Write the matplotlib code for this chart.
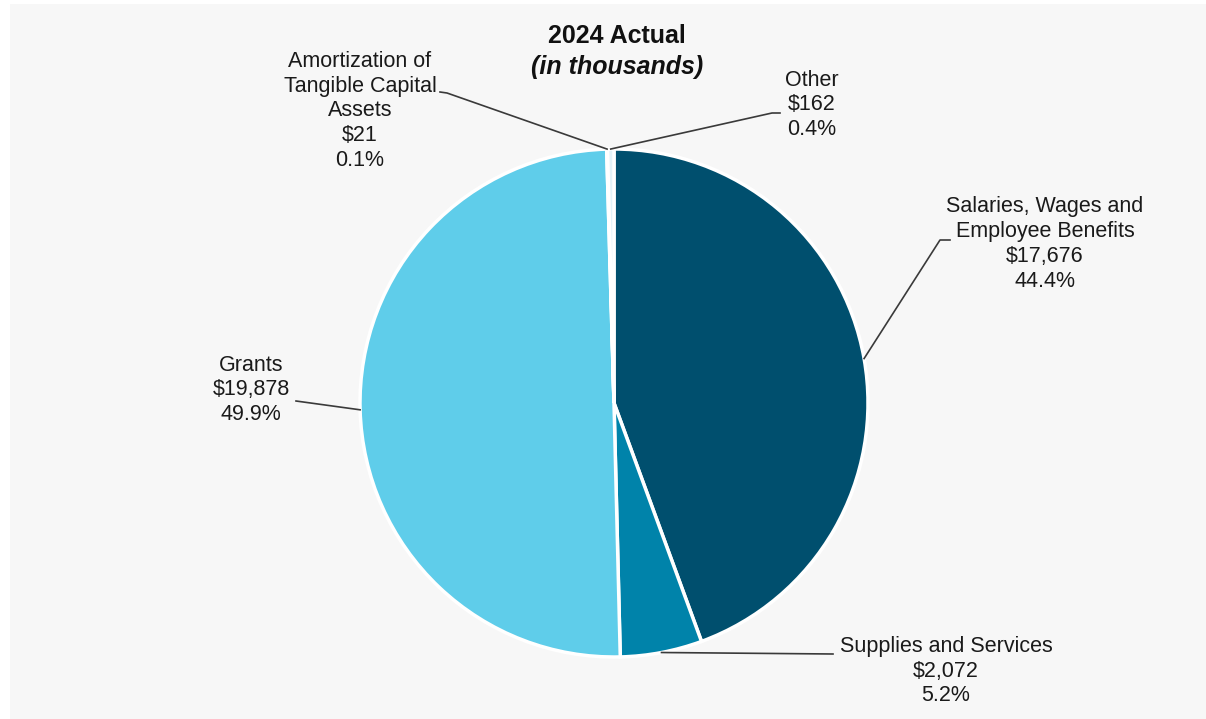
import numpy as np
import matplotlib.pyplot as plt

plt.rcParams['font.family'] = ['Liberation Sans', 'DejaVu Sans']

categories = ['Salaries, Wages and\nEmployee Benefits', 'Supplies and Services', 'Grants',
              'Amortization of\nTangible Capital\nAssets', 'Other']
amounts = [17676, 2072, 19878, 21, 162]
percents = ['44.4%', '5.2%', '49.9%', '0.1%', '0.4%']
sliceColors = ['#004f6e', '#0083aa', '#5fcdea', '#a8def0', '#e3f2f8']

# label block centres and leader elbows, in pixels from the top-left corner
labelPos = [(1045, 244), (946, 671), (251, 390), (360, 111), (812, 105)]
elbowPos = [((950, 240), (940, 240)), ((833, 654), (833, 654)), ((296, 401), (296, 401)),
            ((440, 92), (447, 93)), ((780, 113), (772, 113))]

W, H = 1206, 719
center = (614, H - 403)
radius = 254

fig = plt.figure(figsize=(W / 100, H / 100), dpi=100, facecolor='white')
ax = fig.add_axes([0, 0, 1, 1])
ax.add_patch(plt.Rectangle((10, 0), W - 10, H - 4, facecolor='#f7f7f7', edgecolor='none', zorder=0))

wedges, _ = ax.pie(amounts, colors=sliceColors, startangle=90, counterclock=False,
                   center=center, radius=radius,
                   wedgeprops=dict(edgecolor='white', linewidth=2.5))
ax.set_xlim(0, W)
ax.set_ylim(0, H)
ax.set_aspect('equal')
ax.axis('off')

for i, w in enumerate(wedges):
    mid = np.deg2rad((w.theta1 + w.theta2) / 2)
    px = center[0] + radius * np.cos(mid)
    py = center[1] + radius * np.sin(mid)
    (ex, ey), (fx, fy) = elbowPos[i]
    ax.plot([px, fx, ex], [py, H - fy, H - ey], color='#3a3a3a', lw=1.2, zorder=3)
    lx, ly = labelPos[i]
    ax.text(lx, H - ly, '%s\n$%s\n%s' % (categories[i], format(amounts[i], ','), percents[i]),
            ha='center', va='center', fontsize=15.5, color='#1a1a1a', linespacing=1.23)

ax.text(617, H - 36, '2024 Actual', ha='center', va='center', fontsize=18,
        fontweight='bold', color='#111111')
ax.text(617, H - 67, '(in thousands)', ha='center', va='center', fontsize=18,
        fontweight='bold', fontstyle='italic', color='#111111')

fig.savefig('out.png', dpi=100, facecolor='white')
